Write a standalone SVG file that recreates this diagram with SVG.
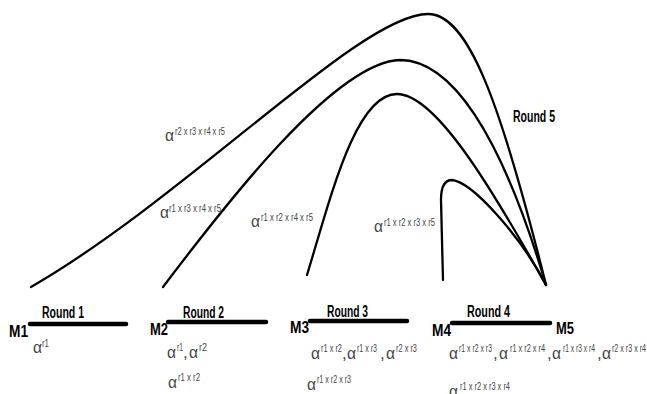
<svg xmlns="http://www.w3.org/2000/svg" width="647" height="394" viewBox="0 0 647 394">
<style>
.m{font-family:"Liberation Sans",Arial,sans-serif;font-weight:bold;font-size:17px;fill:#000}
.r{font-family:"Liberation Sans",Arial,sans-serif;font-weight:bold;font-size:16px;fill:#000}
.a{font-family:"Liberation Sans",Arial,sans-serif;font-size:17px;fill:#444}
.s{font-family:"Liberation Sans",Arial,sans-serif;font-size:11px;fill:#444}
.bar{stroke:#000;stroke-width:4.5;stroke-linecap:round}
.c{fill:none;stroke:#000;stroke-width:2.3;stroke-linecap:round}
</style>
<rect width="647" height="394" fill="#fff"/>
<g id="connectors">
<path class="c" d="M31,287 C190,195 360,14 428,14 C468,14 500,100 546,285"/>
<path class="c" d="M163,287 C225,205 335,62 400,60 C450,60 500,130 546,285"/>
<path class="c" d="M307,275 C330,200 355,94 397,94 C435,94 490,185 546,285"/>
<path class="c" d="M443,280 L441,200 Q441,180 452,180 C472,182 520,235 546,285"/>
</g>
<g id="round1">
<line class="bar" x1="30" y1="324" x2="126" y2="324"/>
<text class="m" x="9" y="337" textLength="19" lengthAdjust="spacingAndGlyphs">M1</text>
<text class="r" x="42" y="318" textLength="42" lengthAdjust="spacingAndGlyphs">Round 1</text>
<text class="a" x="33" y="353" textLength="9" lengthAdjust="spacingAndGlyphs">α</text><text class="s" x="42" y="347" textLength="7" lengthAdjust="spacingAndGlyphs">r1</text>
</g>
<g id="round2">
<line class="bar" x1="168" y1="322" x2="266" y2="322"/>
<text class="m" x="150" y="335" textLength="18" lengthAdjust="spacingAndGlyphs">M2</text>
<text class="r" x="183" y="318" textLength="41" lengthAdjust="spacingAndGlyphs">Round 2</text>
<text class="a" x="167" y="358" textLength="9" lengthAdjust="spacingAndGlyphs">α</text><text class="s" x="177" y="351" textLength="6" lengthAdjust="spacingAndGlyphs">r1</text>
<text class="a" x="183" y="358">,</text>
<text class="a" x="189" y="358" textLength="9" lengthAdjust="spacingAndGlyphs">α</text><text class="s" x="199" y="351" textLength="8" lengthAdjust="spacingAndGlyphs">r2</text>
<text class="a" x="168" y="388" textLength="9" lengthAdjust="spacingAndGlyphs">α</text><text class="s" x="178" y="381" textLength="22" lengthAdjust="spacingAndGlyphs">r1 x r2</text>
</g>
<g id="round3">
<line class="bar" x1="310" y1="321" x2="407" y2="321"/>
<text class="m" x="290" y="333" textLength="19" lengthAdjust="spacingAndGlyphs">M3</text>
<text class="r" x="327" y="317" textLength="41" lengthAdjust="spacingAndGlyphs">Round 3</text>
<text class="a" x="311" y="359" textLength="9" lengthAdjust="spacingAndGlyphs">α</text><text class="s" x="321" y="352" textLength="21" lengthAdjust="spacingAndGlyphs">r1 x r2</text>
<text class="a" x="342" y="359">,</text>
<text class="a" x="347" y="359" textLength="9" lengthAdjust="spacingAndGlyphs">α</text><text class="s" x="357" y="352" textLength="20" lengthAdjust="spacingAndGlyphs">r1 x r3</text>
<text class="a" x="380" y="359">,</text>
<text class="a" x="386" y="359" textLength="9" lengthAdjust="spacingAndGlyphs">α</text><text class="s" x="396" y="352" textLength="21" lengthAdjust="spacingAndGlyphs">r2 x r3</text>
<text class="a" x="307" y="390" textLength="9" lengthAdjust="spacingAndGlyphs">α</text><text class="s" x="317" y="383" textLength="34" lengthAdjust="spacingAndGlyphs">r1 x r2 x r3</text>
</g>
<g id="round4">
<line class="bar" x1="452" y1="323" x2="550" y2="323"/>
<text class="m" x="432" y="336" textLength="19" lengthAdjust="spacingAndGlyphs">M4</text>
<text class="r" x="467" y="317" textLength="43" lengthAdjust="spacingAndGlyphs">Round 4</text>
<text class="a" x="449" y="359" textLength="9" lengthAdjust="spacingAndGlyphs">α</text><text class="s" x="459" y="352" textLength="33" lengthAdjust="spacingAndGlyphs">r1 x r2 x r3</text>
<text class="a" x="493" y="359">,</text>
<text class="a" x="499" y="359" textLength="9" lengthAdjust="spacingAndGlyphs">α</text><text class="s" x="510" y="352" textLength="35" lengthAdjust="spacingAndGlyphs">r1 x r2 x r4</text>
<text class="a" x="547" y="359">,</text>
<text class="a" x="552" y="359" textLength="9" lengthAdjust="spacingAndGlyphs">α</text><text class="s" x="563" y="352" textLength="32" lengthAdjust="spacingAndGlyphs">r1 x r3 x r4</text>
<text class="a" x="597" y="359">,</text>
<text class="a" x="602" y="359" textLength="9" lengthAdjust="spacingAndGlyphs">α</text><text class="s" x="612" y="352" textLength="34" lengthAdjust="spacingAndGlyphs">r2 x r3 x r4</text>
<text class="a" x="449" y="397" textLength="9" lengthAdjust="spacingAndGlyphs">α</text><text class="s" x="460" y="390" textLength="50" lengthAdjust="spacingAndGlyphs">r1 x r2 x r3 x r4</text>
</g>
<g id="m5">
<text class="m" x="556" y="334" textLength="18" lengthAdjust="spacingAndGlyphs">M5</text>
</g>
<g id="round5">
<text class="r" x="513" y="122" textLength="42" lengthAdjust="spacingAndGlyphs">Round 5</text>
<text class="a" x="165" y="141" textLength="9" lengthAdjust="spacingAndGlyphs">α</text><text class="s" x="175" y="135" textLength="50" lengthAdjust="spacingAndGlyphs">r2 x r3 x r4 x r5</text>
<text class="a" x="160" y="218" textLength="9" lengthAdjust="spacingAndGlyphs">α</text><text class="s" x="169" y="212" textLength="52" lengthAdjust="spacingAndGlyphs">r1 x r3 x r4 x r5</text>
<text class="a" x="251" y="227" textLength="9" lengthAdjust="spacingAndGlyphs">α</text><text class="s" x="261" y="221" textLength="52" lengthAdjust="spacingAndGlyphs">r1 x r2 x r4 x r5</text>
<text class="a" x="374" y="232" textLength="9" lengthAdjust="spacingAndGlyphs">α</text><text class="s" x="384" y="226" textLength="51" lengthAdjust="spacingAndGlyphs">r1 x r2 x r3 x r5</text>
</g>
</svg>
